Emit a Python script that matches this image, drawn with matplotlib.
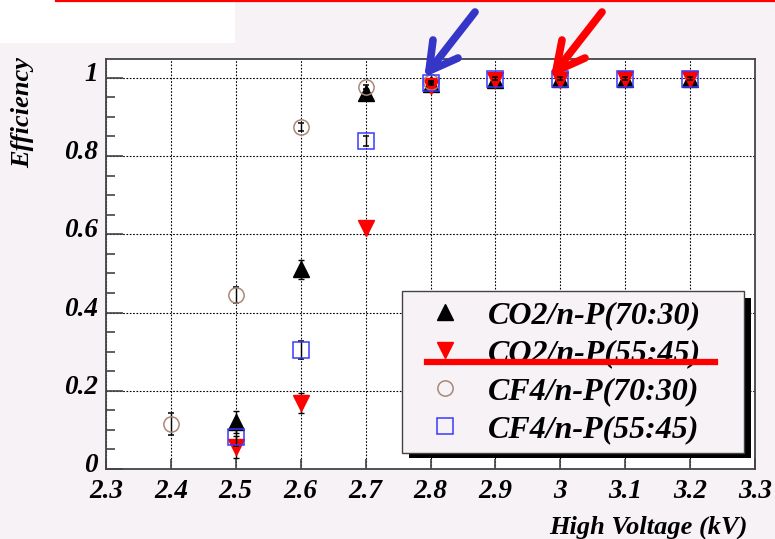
import matplotlib
matplotlib.use("Agg")
import matplotlib.pyplot as plt
from matplotlib.lines import Line2D
from matplotlib.patches import Rectangle
from matplotlib.ticker import MultipleLocator, FuncFormatter
from matplotlib.transforms import ScaledTranslation

# ---------------- data ----------------
hv_co2_7030 = [2.5, 2.6, 2.7, 2.8, 2.9, 3.0, 3.1, 3.2]
eff_co2_7030 = [0.120, 0.510, 0.960, 0.985, 0.995, 0.997, 0.998, 0.998]
err_co2_7030 = [0.027, 0.025, 0.012, 0.005, 0.003, 0.003, 0.003, 0.003]

hv_co2_5545 = [2.5, 2.6, 2.7, 2.8, 2.9, 3.0, 3.1, 3.2]
eff_co2_5545 = [0.056, 0.168, 0.615, 0.980, 0.995, 0.995, 0.997, 0.997]
err_co2_5545 = [0.028, 0.026, 0.015, 0.006, 0.003, 0.003, 0.003, 0.003]

hv_cf4_7030 = [2.4, 2.5, 2.6, 2.7, 2.8]
eff_cf4_7030 = [0.115, 0.445, 0.875, 0.977, 0.990]
err_cf4_7030 = [0.028, 0.020, 0.010, 0.005, 0.003]

hv_cf4_5545 = [2.5, 2.6, 2.7, 2.8, 2.9, 3.0, 3.1, 3.2]
eff_cf4_5545 = [0.081, 0.304, 0.838, 0.987, 0.998, 0.998, 0.998, 0.998]
err_cf4_5545 = [0.022, 0.022, 0.012, 0.005, 0.003, 0.003, 0.003, 0.003]

labels = ["CO2/n-P(70:30)", "CO2/n-P(55:45)", "CF4/n-P(70:30)", "CF4/n-P(55:45)"]
x_ticks = [2.3, 2.4, 2.5, 2.6, 2.7, 2.8, 2.9, 3.0, 3.1, 3.2, 3.3]
y_ticks = [0, 0.2, 0.4, 0.6, 0.8, 1.0]

# ---------------- figure ----------------
W, H = 775, 539
BG = "#f6f2f6"
plt.rcParams["font.family"] = ["Liberation Serif", "DejaVu Serif"]
fig = plt.figure(figsize=(W / 100, H / 100), dpi=100, facecolor=BG)

def fx(px):
    return px / W

def fy(py):
    return 1 - py / H

# top-left white patch and top red line
fig.patches.append(Rectangle((0, fy(43)), fx(235), 43 / H, transform=fig.transFigure,
                             facecolor="white", edgecolor="none", zorder=0))
fig.add_artist(Line2D([fx(56), 1.0], [fy(0.8), fy(0.8)], transform=fig.transFigure,
                      color="red", lw=1.6))

ax = fig.add_axes([fx(106), fy(469), fx(755) - fx(106), fy(59) - fy(469)])
ax.set_facecolor("white")
ax.set_xlim(2.3, 3.3)
ax.set_ylim(0, 1.048)

ms = 11
h1 = ax.errorbar(hv_co2_7030, eff_co2_7030, yerr=err_co2_7030, fmt="^", ms=ms,
                 mfc="black", mec="black", ecolor="black", elinewidth=1, capsize=2.5,
                 label=labels[0], zorder=3)
h2 = ax.errorbar(hv_co2_5545, eff_co2_5545, yerr=err_co2_5545, fmt="v", ms=ms,
                 mfc="red", mec="red", ecolor="black", elinewidth=1, capsize=2.5,
                 label=labels[1], zorder=3.1)
h3 = ax.errorbar(hv_cf4_7030, eff_cf4_7030, yerr=err_cf4_7030, fmt="o", ms=ms,
                 mfc="none", mec="#a88878", mew=1.1, ecolor="black", elinewidth=1,
                 capsize=2.5, label=labels[2], zorder=3.2)
h4 = ax.errorbar(hv_cf4_5545, eff_cf4_5545, yerr=err_cf4_5545, fmt="s", ms=ms,
                 mfc="none", mec="#3a3aff", mew=1.1, ecolor="black", elinewidth=1,
                 capsize=2.5, label=labels[3], zorder=3.3)

# ticks / grid
ax.set_xticks(x_ticks)
ax.set_yticks(y_ticks)
ax.yaxis.set_minor_locator(MultipleLocator(0.05))
fmt = FuncFormatter(lambda v, p: "%g" % round(v, 3))
ax.xaxis.set_major_formatter(fmt)
ax.yaxis.set_major_formatter(fmt)
ax.tick_params(axis="both", which="both", direction="in", top=False, right=False,
               color="#444444", width=1.2)
ax.tick_params(axis="y", which="major", length=12, pad=6)
ax.tick_params(axis="y", which="minor", length=6.5)
ax.tick_params(axis="x", which="major", length=7, pad=7)
up = ScaledTranslation(0, 6.5 / 100, fig.dpi_scale_trans)
for lab in ax.get_xticklabels() + ax.get_yticklabels():
    lab.set_fontsize(19.5)
    lab.set_fontweight("bold")
    lab.set_fontstyle("italic")
for lab in ax.get_yticklabels():
    lab.set_transform(lab.get_transform() + up)
ax.grid(True, which="major", color="black", linestyle=(0, (1.5, 1.5)), lw=0.8)
ax.set_axisbelow(True)
for s in ax.spines.values():
    s.set_color("#444444")
    s.set_linewidth(1.3)

# axis titles
fig.text(fx(23), fy(57), "Efficiency", rotation=90, ha="center", va="top",
         fontsize=19, fontweight="bold", fontstyle="italic")
fig.text(fx(748), fy(527), "High Voltage (kV)", ha="right", va="center",
         fontsize=19, fontweight="bold", fontstyle="italic")

# legend
leg_x0, leg_y0, leg_x1, leg_y1 = 402, 291, 744, 451
handles = [h1[0], h2[0], h3[0], h4[0]]
leg = ax.legend(handles, labels, loc="upper left",
                bbox_to_anchor=(fx(leg_x0), fy(leg_y1), fx(leg_x1) - fx(leg_x0), fy(leg_y0) - fy(leg_y1)),
                bbox_transform=fig.transFigure, mode="expand", borderaxespad=0,
                fancybox=False, framealpha=1, facecolor=BG, edgecolor="#444444",
                prop={"family": "Liberation Serif", "weight": "bold", "style": "italic", "size": 23},
                handlelength=2.1, handletextpad=0.3, borderpad=0.3, labelspacing=0.27,
                markerscale=1.0)
leg.get_frame().set_linewidth(1.0)
leg.set_zorder(6)

# legend shadow (drawn just under the legend)
shadow = Rectangle((fx(leg_x0 + 7), fy(leg_y1 + 7)), fx(leg_x1) - fx(leg_x0),
                   fy(leg_y0) - fy(leg_y1), transform=fig.transFigure,
                   facecolor="black", edgecolor="none", zorder=5.5, clip_on=False)
ax.add_artist(shadow)

# red strike line across legend
fig.add_artist(Line2D([fx(427), fx(715)], [fy(362), fy(362)], transform=fig.transFigure,
                      color="red", lw=4.5, zorder=10))

# arrows
def arrow(start, tip, arm1, arm2, color):
    for a, b in [(start, tip), (arm1, tip), (arm2, tip)]:
        fig.add_artist(Line2D([fx(a[0]), fx(b[0])], [fy(a[1]), fy(b[1])],
                              transform=fig.transFigure, color=color, lw=5.5,
                              solid_capstyle="round", zorder=10))

arrow((475, 12), (429, 71), (433, 40), (458, 58), "#3535c8")
arrow((602, 12), (556, 71), (562, 40), (585, 58), "#ff0000")

fig.savefig("out.png", dpi=100, facecolor=BG)
